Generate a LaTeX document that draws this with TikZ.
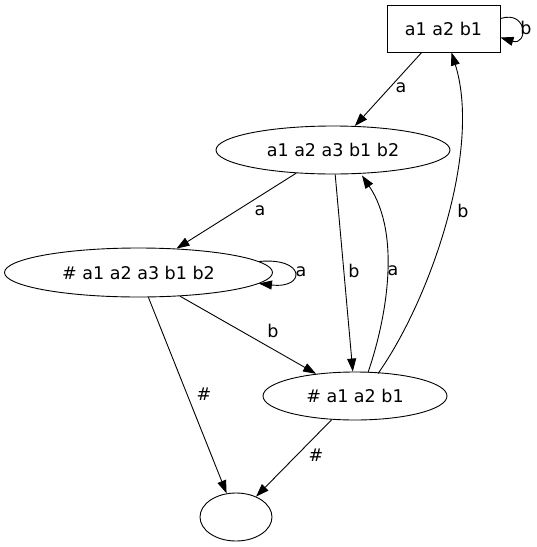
\documentclass[tikz,border=0pt]{standalone}
\usepackage{fontspec}
\setmainfont{DejaVu Sans}
\usetikzlibrary{shapes.geometric,arrows.meta,calc}
\begin{document}
\begin{tikzpicture}[x=1pt,y=-1pt,
  every node/.style={font=\fontsize{17.5}{20}\selectfont},
  st/.style={draw,ellipse,inner sep=0pt,line width=0.9pt},
  bx/.style={draw,rectangle,inner sep=0pt,line width=0.9pt},
  arr/.style={line width=0.9pt,-{Triangle[length=13pt,width=9pt]}},
  lbl/.style={inner sep=0pt}]
\useasboundingbox (0,0) rectangle (537,547);
\node[bx,minimum width=113pt,minimum height=47pt] (box) at (443.5,28.5) {a1 a2 b1\hspace{13pt}};
\node[st,minimum width=234pt,minimum height=48pt] (e1) at (333,150) {a1 a2 a3 b1 b2\hspace{6pt}};
\node[st,minimum width=268pt,minimum height=49pt] (e2) at (138.5,272.5) {\# a1 a2 a3 b1 b2\hspace{7pt}};
\node[st,minimum width=184pt,minimum height=48pt] (e4) at (355,396) {\# a1 a2 b1\hspace{6pt}};
\node[st,minimum width=72pt,minimum height=48pt] (e5) at (236,517) {};
% edges
\draw[arr] (box) -- (e1);
\draw[arr] ($(box.east)+(0,-10)$) .. controls (528,10) and (528,46) .. ($(box.east)+(0,9)$);
\draw[arr] (e1) -- (e2);
\draw[arr] (e1) -- (e4);
\draw[arr] ($(e4.north)+(13,1)$) .. controls (386,320) and (402,235) .. ($(e1.south)+(29,1)$);
\draw[arr] ($(e2.east)+(-14,-11)$) .. controls (306,257) and (306,289) .. ($(e2.east)+(-14,11)$);
\draw[arr] (e2) -- (e4);
\draw[arr] (e2) -- (e5);
\draw[arr] (e4) -- (e5);
\draw[arr] ($(e4.north)+(23,2)$) .. controls (430,300) and (482,150) .. ($(box.south)+(8,0)$);
% labels
\node[lbl] (la1) at (401,88) {a};
\node[lbl] (lb1) at (526,28) {b};
\node[lbl] (la2) at (260,211) {a};
\node[lbl] (lb2) at (354,271) {b};
\node[lbl] (la3) at (393,271) {a};
\node[lbl] (lb3) at (463,211) {b};
\node[lbl] (la4) at (301,272) {a};
\node[lbl] (lb4) at (273,331) {b};
\node[lbl] (lh1) at (204,394) {\#};
\node[lbl] (lh2) at (316,455) {\#};
\end{tikzpicture}
\end{document}
